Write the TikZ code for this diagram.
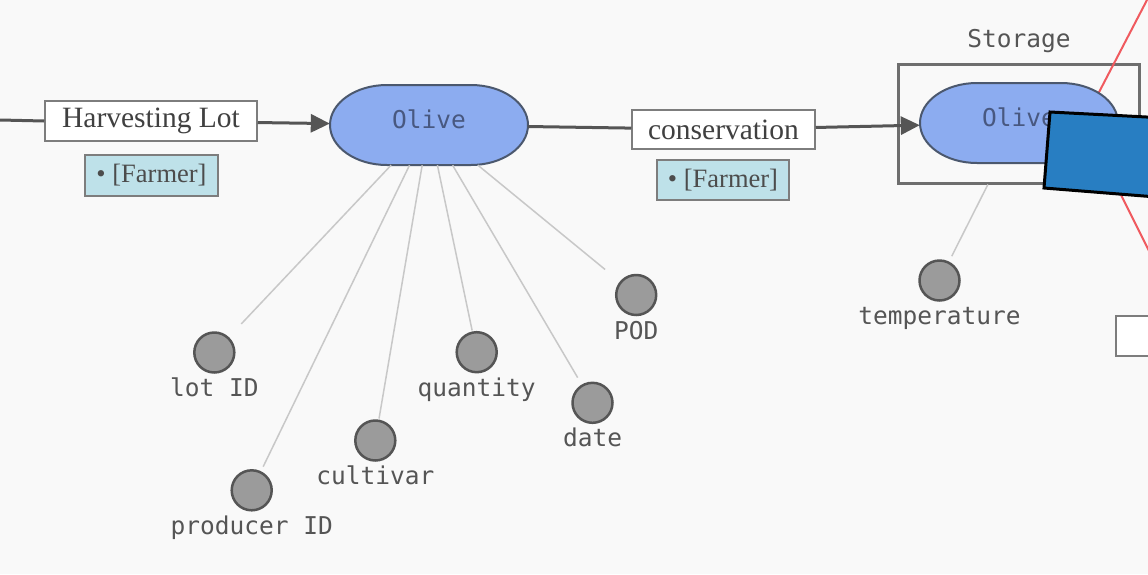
\documentclass[tikz,border=0pt]{standalone}
\usepackage{fontspec}
\setmainfont{Liberation Serif}
\newfontfamily\codefont{DejaVu Sans Mono}
\usetikzlibrary{arrows.meta}

\definecolor{bgcol}{RGB}{249,249,249}
\definecolor{flowcol}{RGB}{85,85,85}
\definecolor{boxedge}{RGB}{125,125,125}
\definecolor{groupedge}{RGB}{110,110,110}
\definecolor{rolefill}{RGB}{190,225,233}
\definecolor{olivefill}{RGB}{140,172,240}
\definecolor{oliveedge}{RGB}{75,88,110}
\definecolor{olivetext}{RGB}{72,88,128}
\definecolor{attrfill}{RGB}{155,155,155}
\definecolor{attredge}{RGB}{85,85,85}
\definecolor{attrline}{RGB}{200,200,200}
\definecolor{labelcol}{RGB}{85,85,85}
\definecolor{calloutblue}{RGB}{40,126,194}
\definecolor{linkred}{RGB}{240,90,95}

\begin{document}
\begin{tikzpicture}[x=1pt,y=-1pt,
  flow/.style={draw=flowcol,line width=3pt,-{Triangle[length=19pt,width=18pt]}},
  plainflow/.style={draw=flowcol,line width=3pt},
  activity/.style={draw=boxedge,line width=1.5pt,fill=white,inner sep=0pt,
    minimum height=40pt,font=\fontsize{29.5}{31}\selectfont,text=black!75},
  role/.style={draw=boxedge,line width=1.5pt,fill=rolefill,inner sep=0pt,
    minimum width=132pt,minimum height=40pt,font=\fontsize{26.5}{28}\selectfont,text=black!70},
  % entity nodes: transparent frame holding the label, outline drawn by the pic below
  entity/.style={minimum width=198pt,minimum height=80pt,inner sep=0pt,
    font=\codefont\fontsize{24.5}{26}\selectfont,text=olivetext,text height=18pt,text depth=11pt},
  olivebody/.pic={
    \filldraw[draw=oliveedge,line width=2pt,fill=olivefill]
      (-42pt,40pt) -- (42pt,40pt)
      arc[start angle=90,end angle=-90,x radius=57pt,y radius=40pt]
      -- (-42pt,-40pt)
      arc[start angle=270,end angle=90,x radius=57pt,y radius=40pt] -- cycle;
  },
  group/.style={draw=groupedge,line width=3pt,inner sep=0pt},
  attr/.style={circle,draw=attredge,line width=2.5pt,fill=attrfill,minimum size=40pt,inner sep=0pt},
  attrlabel/.style={anchor=base,inner sep=0pt,font=\codefont\fontsize{24.5}{26}\selectfont,text=labelcol},
  attrlink/.style={draw=attrline,line width=1.5pt},
  redlink/.style={draw=linkred,line width=2pt},
]
\useasboundingbox (0,0) rectangle (1148,574);
\fill[bgcol] (0,0) rectangle (1148,574);
\clip (0,0) rectangle (1148,574);

% storage group and its caption
\node[group,minimum width=241pt,minimum height=119pt] (storage) at (1018.5,123.5) {};
\node[attrlabel] (storagecap) at (1019,47) {Storage};

% red links leaving towards the right
\coordinate (redhub) at (1084,121);
\coordinate (redup) at (1160,-25);
\coordinate (reddown) at (1160,273);
\draw[redlink] (redhub) -- (redup);
\draw[redlink] (redhub) -- (reddown);

% process chain
\node[activity,minimum width=212pt] (harv) at (151,121) {Harvesting Lot};
\node[role,minimum width=133pt,minimum height=41pt] (farmer1) at (151.5,175.5) {• [Farmer]};
\pic at (429,125) {olivebody};
\node[entity] (olive1) at (429,125) {Olive};
\node[activity,minimum width=183pt,minimum height=39pt] (cons) at (723.5,129.5) {conservation};
\node[role] (farmer2) at (723,180) {• [Farmer]};
\pic at (1019,123) {olivebody};
\node[entity] (olive2) at (1019,123) {Olive};

\coordinate (inflow) at (0,120);
\draw[plainflow] (inflow) -- (harv.west);
\draw[flow] (harv) -- (olive1);
\draw[plainflow] (olive1) -- (cons);
\draw[flow] (cons) -- (olive2);

% attributes of the harvested olive
\node[attr] (lotid) at (214.3,352.5) {};
\node[attr] (prodid) at (251.7,490.3) {};
\node[attr] (cultivar) at (375.3,440.5) {};
\node[attr] (quantity) at (476.7,352.2) {};
\node[attr] (date) at (592.5,402.8) {};
\node[attr] (pod) at (636.2,295) {};
\node[attr] (temp) at (939.5,280.5) {};

\node[attrlabel] at ([yshift=-44pt]lotid.center) {lot ID};
\node[attrlabel] at ([yshift=-44pt]prodid.center) {producer ID};
\node[attrlabel] at ([yshift=-44pt]cultivar.center) {cultivar};
\node[attrlabel] at ([yshift=-44pt]quantity.center) {quantity};
\node[attrlabel] at ([yshift=-44pt]date.center) {date};
\node[attrlabel] at ([yshift=-44pt]pod.center) {POD};
\node[attrlabel] at ([yshift=-44pt]temp.center) {temperature};

\draw[attrlink,shorten >=18pt] (olive1) -- (lotid);
\draw[attrlink,shorten >=5pt] (olive1) -- (prodid);
\draw[attrlink,shorten >=1pt] (olive1) -- (cultivar);
\draw[attrlink,shorten >=1pt] (olive1) -- (quantity);
\draw[attrlink,shorten >=8pt] (olive1) -- (date);
\draw[attrlink,shorten >=19pt] (olive1) -- (pod);
\draw[attrlink,shorten >=6pt] (storage) -- (temp);

% callout panel and partly visible box on the right edge
\filldraw[fill=calloutblue,draw=black,line width=3pt]
  (1050,112) -- (1160,117.7) -- (1160,197.3) -- (1044,188) -- cycle;
\node[draw=boxedge,line width=2pt,fill=white,minimum width=90pt,minimum height=40pt,inner sep=0pt]
  (edgebox) at (1161,336) {};
\end{tikzpicture}
\end{document}
